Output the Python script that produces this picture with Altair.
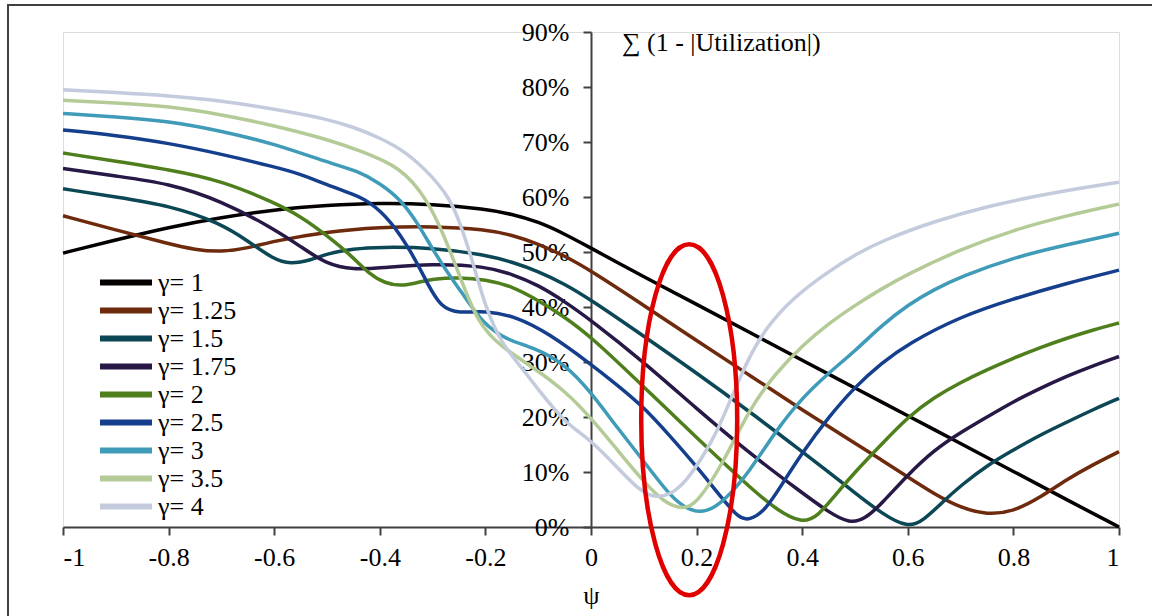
import altair as alt
import pandas as pd

# ---------------- data ----------------
GAMMA_LABELS = ["γ= 1", "γ= 1.25", "γ= 1.5", "γ= 1.75", "γ= 2",
                "γ= 2.5", "γ= 3", "γ= 3.5", "γ= 4"]
COLORS = ["#050000", "#6E2A0C", "#0C4756", "#271845", "#4F7F1C",
          "#153F8D", "#3F9BB8", "#B4CB97", "#C3CBDD"]

X_G1 = [-1, -0.9, -0.8, -0.7, -0.6, -0.5, -0.4, -0.3, -0.2, -0.15, -0.1, -0.05, 0, 0.05,
        0.1, 0.2, 0.3, 0.4, 0.5, 0.6, 0.7, 0.8, 0.9, 1]
Y_G1 = [0.498, 0.522, 0.545, 0.563, 0.577, 0.585, 0.589, 0.587, 0.578, 0.569, 0.555, 0.533, 0.507, 0.481,
        0.455, 0.405, 0.354, 0.303, 0.253, 0.202, 0.152, 0.101, 0.05, 0.0]

X_G125 = [-1, -0.9, -0.8, -0.75, -0.7, -0.65, -0.6, -0.5, -0.4, -0.3, -0.2, -0.15, -0.1, -0.05, 0,
          0.1, 0.2, 0.3, 0.4, 0.5, 0.55, 0.6, 0.65, 0.7, 0.75, 0.8, 0.85, 0.9, 0.95, 1]
Y_G125 = [0.566, 0.54, 0.515, 0.504, 0.5, 0.507, 0.52, 0.537, 0.545, 0.547, 0.541, 0.531, 0.515, 0.493, 0.466,
          0.403, 0.339, 0.276, 0.213, 0.152, 0.122, 0.091, 0.06, 0.035, 0.022, 0.028, 0.053, 0.086, 0.113, 0.137]

X_G15 = [-1, -0.9, -0.8, -0.7, -0.65, -0.6, -0.57, -0.53, -0.5, -0.45, -0.4, -0.3, -0.2, -0.15, -0.1, -0.05, 0,
         0.1, 0.2, 0.3, 0.4, 0.45, 0.5, 0.55, 0.6, 0.63, 0.67, 0.7, 0.75, 0.8, 0.85, 0.9, 0.95, 1]
Y_G15 = [0.615, 0.6, 0.585, 0.552, 0.52, 0.486, 0.478, 0.485, 0.497, 0.506, 0.509, 0.508, 0.495, 0.482, 0.465,
         0.442, 0.413, 0.347, 0.28, 0.21, 0.137, 0.1, 0.062, 0.025, -0.002, 0.012, 0.049, 0.075, 0.112, 0.14,
         0.167, 0.19, 0.213, 0.234]

X_G175 = [-1, -0.9, -0.8, -0.7, -0.6, -0.55, -0.5, -0.45, -0.4, -0.3, -0.2, -0.15, -0.1, -0.05, 0,
          0.1, 0.2, 0.3, 0.4, 0.45, 0.49, 0.52, 0.55, 0.6, 0.65, 0.7, 0.75, 0.8, 0.85, 0.9, 0.95, 1]
Y_G175 = [0.652, 0.638, 0.625, 0.593, 0.542, 0.51, 0.477, 0.468, 0.471, 0.479, 0.474, 0.46, 0.44, 0.41, 0.376,
          0.3, 0.215, 0.134, 0.062, 0.027, 0.006, 0.015, 0.042, 0.095, 0.14, 0.172, 0.2, 0.228, 0.252, 0.274,
          0.293, 0.31]

X_G2 = [-1, -0.9, -0.8, -0.7, -0.6, -0.55, -0.5, -0.45, -0.42, -0.39, -0.36, -0.33, -0.3, -0.25, -0.2, -0.15,
        -0.1, -0.05, 0, 0.1, 0.2, 0.3, 0.35, 0.4, 0.43, 0.46, 0.5, 0.55, 0.6, 0.65, 0.7, 0.75, 0.8, 0.85,
        0.9, 0.95, 1]
Y_G2 = [0.68, 0.665, 0.65, 0.63, 0.59, 0.565, 0.53, 0.49, 0.46, 0.443, 0.438, 0.444, 0.451, 0.454, 0.45, 0.438,
        0.412, 0.382, 0.346, 0.255, 0.162, 0.073, 0.032, 0.006, 0.02, 0.055, 0.1, 0.15, 0.2, 0.236, 0.263, 0.286,
        0.307, 0.326, 0.343, 0.358, 0.371]

X_G25 = [-1, -0.9, -0.8, -0.7, -0.6, -0.55, -0.5, -0.45, -0.42, -0.38, -0.34, -0.31, -0.285, -0.25, -0.2,
         -0.14, -0.08, 0, 0.05, 0.1, 0.15, 0.2, 0.25, 0.28, 0.3, 0.33, 0.36, 0.4, 0.45, 0.5, 0.55, 0.6, 0.7,
         0.8, 0.9, 1]
Y_G25 = [0.722, 0.712, 0.698, 0.678, 0.655, 0.642, 0.622, 0.605, 0.592, 0.558, 0.5, 0.443, 0.4, 0.388, 0.394,
         0.382, 0.352, 0.296, 0.258, 0.218, 0.165, 0.11, 0.05, 0.016, 0.012, 0.03, 0.075, 0.135, 0.2, 0.255,
         0.298, 0.333, 0.383, 0.415, 0.443, 0.467]

X_G3 = [-1, -0.9, -0.8, -0.7, -0.6, -0.5, -0.44, -0.4, -0.36, -0.33, -0.3, -0.27, -0.235, -0.205, -0.16, -0.11,
        -0.05, 0, 0.05, 0.1, 0.15, 0.19, 0.22, 0.25, 0.3, 0.35, 0.4, 0.45, 0.5, 0.55, 0.6, 0.65, 0.7, 0.8,
        0.9, 1]
Y_G3 = [0.752, 0.746, 0.738, 0.72, 0.697, 0.663, 0.647, 0.625, 0.595, 0.555, 0.505, 0.46, 0.413, 0.371, 0.34,
        0.327, 0.297, 0.245, 0.18, 0.12, 0.055, 0.027, 0.028, 0.045, 0.1, 0.175, 0.235, 0.28, 0.32, 0.366,
        0.404, 0.432, 0.455, 0.49, 0.513, 0.534]

X_G35 = [-1, -0.9, -0.8, -0.7, -0.6, -0.5, -0.44, -0.36, -0.31, -0.28, -0.25, -0.215, -0.17, -0.11, -0.045,
         0, 0.05, 0.1, 0.14, 0.175, 0.2, 0.25, 0.3, 0.35, 0.4, 0.45, 0.5, 0.55, 0.6, 0.7, 0.8, 0.9, 1]
Y_G35 = [0.776, 0.771, 0.765, 0.75, 0.73, 0.705, 0.685, 0.655, 0.595, 0.534, 0.46, 0.371, 0.327, 0.291, 0.244,
         0.198, 0.14, 0.082, 0.043, 0.032, 0.042, 0.115, 0.215, 0.28, 0.33, 0.37, 0.403, 0.433, 0.46, 0.505,
         0.54, 0.566, 0.587]

X_G4 = [-1, -0.9, -0.8, -0.7, -0.6, -0.5, -0.45, -0.4, -0.35, -0.3, -0.27, -0.25, -0.22, -0.2, -0.17, -0.14,
        -0.12, -0.1, -0.05, 0, 0.05, 0.09, 0.12, 0.15, 0.18, 0.21, 0.24, 0.27, 0.3, 0.33, 0.38, 0.45, 0.5,
        0.55, 0.65, 0.75, 0.85, 0.92, 1]
Y_G4 = [0.795, 0.79, 0.784, 0.775, 0.76, 0.742, 0.727, 0.708, 0.682, 0.637, 0.6, 0.56, 0.47, 0.4, 0.335, 0.3,
        0.275, 0.25, 0.19, 0.158, 0.108, 0.068, 0.053, 0.058, 0.083, 0.125, 0.175, 0.245, 0.31, 0.36, 0.415,
        0.465, 0.495, 0.52, 0.556, 0.583, 0.603, 0.615, 0.627]

SERIES_X = [X_G1, X_G125, X_G15, X_G175, X_G2, X_G25, X_G3, X_G35, X_G4]
SERIES_Y = [Y_G1, Y_G125, Y_G15, Y_G175, Y_G2, Y_G25, Y_G3, Y_G35, Y_G4]

X_TICKS = [-1, -0.8, -0.6, -0.4, -0.2, 0, 0.2, 0.4, 0.6, 0.8, 1]
Y_TICKS = [0, 0.1, 0.2, 0.3, 0.4, 0.5, 0.6, 0.7, 0.8, 0.9]

# red highlight ellipse (centre in data units)
ELLIPSE_PSI = [0.186]
ELLIPSE_VAL = [0.195]

rows = []
for order, (lab, xs, ys) in enumerate(zip(GAMMA_LABELS, SERIES_X, SERIES_Y)):
    for x, y in zip(xs, ys):
        rows.append({"psi": x, "value": y, "gamma": lab, "k": order})
df = pd.DataFrame(rows)

FONT = "Liberation Serif"
W, H = 1056, 495

X_ENC = alt.X(
    "psi:Q",
    scale=alt.Scale(domain=[-1, 1], nice=False, zero=False),
    axis=alt.Axis(values=X_TICKS, labelExpr="datum.value + ''", title="ψ",
                  grid=False, tickSize=8, tickWidth=2, tickColor="#404040",
                  domainColor="#404040", domainWidth=2, labelFont=FONT, labelFontSize=26,
                  labelColor="black", labelPadding=9, titleFont=FONT, titleFontSize=26,
                  titleFontWeight="normal", titleColor="black", titlePadding=12),
)
Y_ENC = alt.Y(
    "value:Q",
    scale=alt.Scale(domain=[0, 0.9], nice=False),
    axis=alt.Axis(values=Y_TICKS, labelExpr="round(datum.value*100) + '%'", title=None,
                  offset=-W / 2, grid=False, tickSize=8, tickWidth=2, tickColor="#404040",
                  domainColor="#404040", domainWidth=2, labelFont=FONT, labelFontSize=26,
                  labelColor="black", labelPadding=14),
)

lines = alt.Chart(df).mark_line(strokeWidth=3.5, interpolate="basis").encode(
    x=X_ENC,
    y=Y_ENC,
    color=alt.Color("gamma:N",
                    scale=alt.Scale(domain=GAMMA_LABELS, range=COLORS),
                    legend=alt.Legend(title=None, orient="none", legendX=34, legendY=237,
                                      symbolType="stroke", symbolSize=2704, symbolStrokeWidth=6,
                                      clipHeight=27.2, rowPadding=0, padding=0, labelOffset=3,
                                      labelFont=FONT, labelFontSize=26, labelColor="black",
                                      labelLimit=300)),
    detail="gamma:N",
    order="k:Q",
)

ellipse_path = ("M 0 -1 C 0.151 -1 0.2735 -0.5523 0.2735 0 "
                "C 0.2735 0.5523 0.151 1 0 1 "
                "C -0.151 1 -0.2735 0.5523 -0.2735 0 "
                "C -0.2735 -0.5523 -0.151 -1 0 -1 Z")
ellipse = alt.Chart(pd.DataFrame({"psi": ELLIPSE_PSI, "value": ELLIPSE_VAL})).mark_point(
    shape=ellipse_path, size=351 * 351, filled=False, stroke="#E00000",
    strokeWidth=4.5, opacity=1,
).encode(x=X_ENC, y=Y_ENC)

frame = alt.Chart(pd.DataFrame({"a": [0]})).mark_rect(
    fillOpacity=0, stroke="#404040", strokeWidth=2,
).encode(x=alt.value(-55), x2=alt.value(1110), y=alt.value(-27), y2=alt.value(620))

chart = alt.layer(frame, lines, ellipse).properties(
    width=W, height=H,
    autosize=alt.AutoSizeParams(type="none"),
    padding={"left": 63, "top": 32, "right": 33, "bottom": 89},
    title=alt.TitleParams("∑ (1 - |Utilization|)", anchor="start", frame="group", dx=559, dy=52,
                          offset=0, baseline="top", font=FONT, fontSize=26, fontWeight="normal",
                          color="black"),
).configure_view(stroke=None).configure(background="white")

chart.save("out.html", embed_options={"renderer": "svg", "actions": False})
